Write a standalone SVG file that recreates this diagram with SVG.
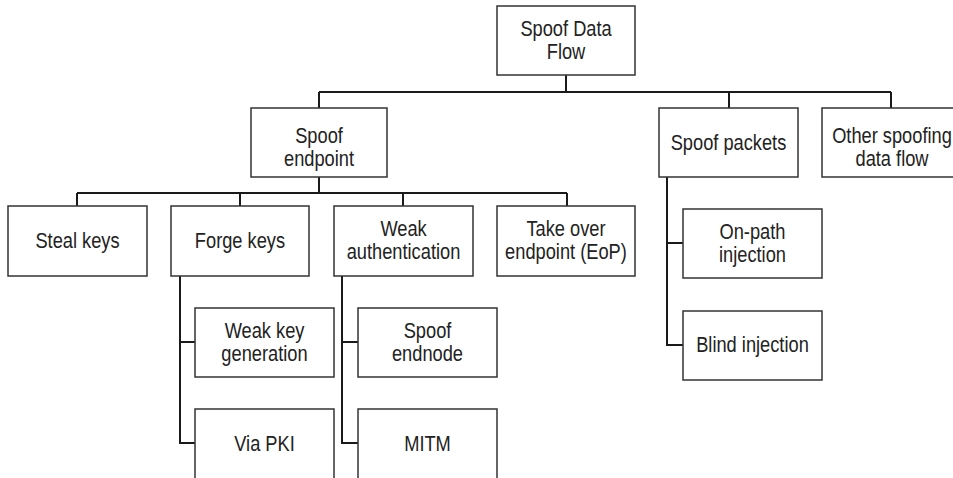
<svg xmlns="http://www.w3.org/2000/svg" width="953" height="478" viewBox="0 0 953 478">
<style>
  .box { fill: #ffffff; stroke: #333333; stroke-width: 1.5; }
  .lbl { font-family: "Liberation Sans", Arial, sans-serif; font-size: 22px; fill: #222222; text-anchor: middle; transform-box: fill-box; transform-origin: center; transform: scaleX(0.83); }
  .conn { fill: none; stroke: #1a1a1a; stroke-width: 2; }
</style>
<rect width="953" height="478" fill="#ffffff"/>
<g id="connectors">
  <path class="conn" d="M566 75 V92 M319 92 H891 M319 92 V108 M729 92 V108 M891 92 V108"/>
  <path class="conn" d="M319 177 V193 M77 193 H567 M77 193 V206 M240 193 V206 M403 193 V206 M567 193 V206"/>
  <path class="conn" d="M180 276 V443 H195 M180 342 H195"/>
  <path class="conn" d="M342 276 V443 H358 M342 342 H358"/>
  <path class="conn" d="M667 177 V345 H683 M667 243 H683"/>
</g>
<g id="spoof-data-flow">
  <rect class="box" x="497" y="6" width="138" height="69"/>
  <text class="lbl" x="566" y="36">Spoof Data</text>
  <text class="lbl" x="566" y="59">Flow</text>
</g>
<g id="spoof-endpoint">
  <rect class="box" x="251" y="108" width="136" height="69"/>
  <text class="lbl" x="319" y="143">Spoof</text>
  <text class="lbl" x="319" y="166">endpoint</text>
</g>
<g id="spoof-packets">
  <rect class="box" x="659" y="108" width="139" height="69"/>
  <text class="lbl" x="728.5" y="150">Spoof packets</text>
</g>
<g id="other-spoofing">
  <rect class="box" x="822" y="108" width="138" height="69"/>
  <text class="lbl" x="892" y="143">Other spoofing</text>
  <text class="lbl" x="892" y="166">data flow</text>
</g>
<g id="steal-keys">
  <rect class="box" x="8" y="206" width="139" height="70"/>
  <text class="lbl" x="77.5" y="248">Steal keys</text>
</g>
<g id="forge-keys">
  <rect class="box" x="171" y="206" width="138" height="70"/>
  <text class="lbl" x="240" y="248">Forge keys</text>
</g>
<g id="weak-authentication">
  <rect class="box" x="334" y="206" width="139" height="70"/>
  <text class="lbl" x="403.5" y="236">Weak</text>
  <text class="lbl" x="403.5" y="259">authentication</text>
</g>
<g id="take-over-endpoint">
  <rect class="box" x="497" y="206" width="138" height="70"/>
  <text class="lbl" x="566" y="236">Take over</text>
  <text class="lbl" x="566" y="259">endpoint (EoP)</text>
</g>
<g id="weak-key-generation">
  <rect class="box" x="195" y="308" width="139" height="69"/>
  <text class="lbl" x="264.5" y="338">Weak key</text>
  <text class="lbl" x="264.5" y="361">generation</text>
</g>
<g id="via-pki">
  <rect class="box" x="195" y="409" width="139" height="70"/>
  <text class="lbl" x="264.5" y="451">Via PKI</text>
</g>
<g id="spoof-endnode">
  <rect class="box" x="358" y="308" width="139" height="69"/>
  <text class="lbl" x="427.5" y="338">Spoof</text>
  <text class="lbl" x="427.5" y="361">endnode</text>
</g>
<g id="mitm">
  <rect class="box" x="358" y="409" width="139" height="70"/>
  <text class="lbl" x="427.5" y="451">MITM</text>
</g>
<g id="on-path-injection">
  <rect class="box" x="683" y="209" width="139" height="69"/>
  <text class="lbl" x="752.5" y="239">On-path</text>
  <text class="lbl" x="752.5" y="262">injection</text>
</g>
<g id="blind-injection">
  <rect class="box" x="683" y="311" width="139" height="69"/>
  <text class="lbl" x="752.5" y="352">Blind injection</text>
</g>
</svg>
